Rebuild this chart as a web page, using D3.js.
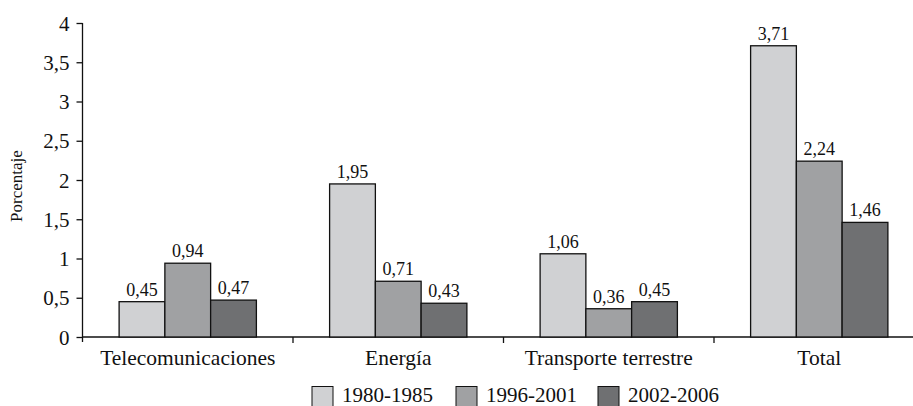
<!DOCTYPE html>
<html>
<head>
<meta charset="utf-8">
<script src="https://cdn.jsdelivr.net/npm/d3@7"></script>
<style>
  html, body { margin: 0; padding: 0; background: #fff; }
  svg { display: block; }
</style>
</head>
<body>
<svg id="chart" width="913" height="406"></svg>
<script>
// Sector categories and period series
const categories = ["Telecomunicaciones", "Energía", "Transporte terrestre", "Total"];
const periods = ["1980-1985", "1996-2001", "2002-2006"];
const values1980 = [0.45, 1.95, 1.06, 3.71];
const values1996 = [0.94, 0.71, 0.36, 2.24];
const values2002 = [0.47, 0.43, 0.45, 1.46];
const yTicks = [0, 0.5, 1, 1.5, 2, 2.5, 3, 3.5, 4];
const periodColors = ["#d0d1d3", "#a0a1a3", "#6f7072"];

const seriesValues = [values1980, values1996, values2002];
const fmt = v => String(v).replace(".", ",");
const FONT = "Liberation Serif";
const INK = "#111";

const svg = d3.select("#chart");
const plotLeft = 82.5, plotBottom = 337, plotTop = 23;

const x0 = d3.scaleBand().domain(categories).range([plotLeft, plotLeft + 4 * 210.5]).paddingInner(0).paddingOuter(0);
const x1 = d3.scaleBand().domain(periods).range([0, x0.bandwidth()]).paddingInner(0).paddingOuter(0.8);
const y = d3.scaleLinear().domain([0, 4]).range([plotBottom, plotTop]);
const color = d3.scaleOrdinal().domain(periods).range(periodColors);

// Y axis
const yAxis = svg.append("g")
  .attr("transform", `translate(${plotLeft},0)`)
  .call(d3.axisLeft(y).tickValues(yTicks).tickSize(6).tickPadding(7).tickFormat(fmt));
yAxis.select(".domain").attr("stroke", INK).attr("stroke-width", 1.3).attr("d", `M0,${plotTop}V${plotBottom + 5}`);
yAxis.selectAll(".tick line").attr("stroke", INK).attr("stroke-width", 1.3);
yAxis.selectAll(".tick text").attr("fill", INK).attr("dy", "0.34em").attr("font-size", 21);

// X axis with separators between categories
const xAxis = svg.append("g").attr("transform", `translate(0,${plotBottom})`);
xAxis.append("line").attr("x1", plotLeft).attr("x2", 913).attr("y1", 0).attr("y2", 0)
  .attr("stroke", INK).attr("stroke-width", 1.3);
xAxis.selectAll("line.sep").data(categories.slice(1)).join("line")
  .attr("class", "sep")
  .attr("x1", d => x0(d)).attr("x2", d => x0(d))
  .attr("y1", 0).attr("y2", 6)
  .attr("stroke", INK).attr("stroke-width", 1.3);
xAxis.selectAll("text.cat").data(categories).join("text")
  .attr("class", "cat")
  .attr("x", d => x0(d) + x0.bandwidth() / 2)
  .attr("y", 28)
  .attr("text-anchor", "middle")
  .attr("font-size", 21.5)
  .attr("fill", INK)
  .text(d => d);

// Bars
const groups = svg.append("g").selectAll("g")
  .data(categories.map((c, i) => ({ c, vals: periods.map((p, k) => ({ p, v: seriesValues[k][i] })) })))
  .join("g")
  .attr("transform", d => `translate(${x0(d.c)},0)`);

groups.selectAll("rect").data(d => d.vals).join("rect")
  .attr("x", d => x1(d.p))
  .attr("y", d => y(d.v))
  .attr("width", x1.bandwidth())
  .attr("height", d => y(0) - y(d.v))
  .attr("fill", d => color(d.p))
  .attr("stroke", INK)
  .attr("stroke-width", 1.3);

groups.selectAll("text").data(d => d.vals).join("text")
  .attr("x", d => x1(d.p) + x1.bandwidth() / 2)
  .attr("y", d => y(d.v) - 6)
  .attr("text-anchor", "middle")
  .attr("font-size", 18)
  .attr("fill", INK)
  .text(d => fmt(d.v));

// Axis title
svg.append("text")
  .attr("transform", "translate(22,186) rotate(-90)")
  .attr("text-anchor", "middle")
  .attr("font-size", 17)
  .attr("fill", INK)
  .text("Porcentaje");

// Legend
const legendX = [312, 456, 598];
const legend = svg.append("g").selectAll("g").data(periods).join("g")
  .attr("transform", (d, i) => `translate(${legendX[i]},386.5)`);
legend.append("rect")
  .attr("width", 21).attr("height", 21)
  .attr("fill", d => color(d))
  .attr("stroke", INK).attr("stroke-width", 1);
legend.append("text")
  .attr("x", 30).attr("y", 15)
  .attr("font-size", 21)
  .attr("fill", INK)
  .text(d => d);

// Serif face on every label
svg.selectAll("text").attr("font-family", FONT).style("font-family", FONT);
</script>
</body>
</html>
